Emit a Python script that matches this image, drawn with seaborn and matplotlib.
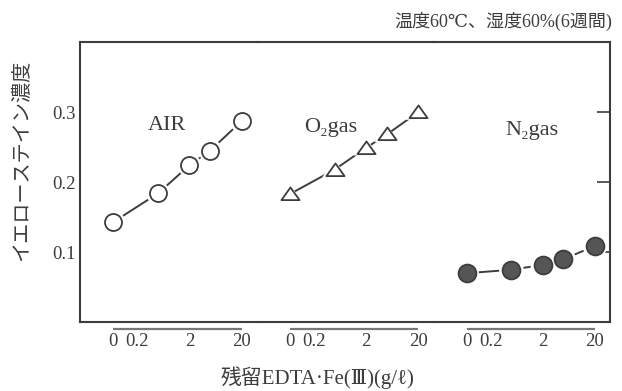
import pandas as pd
import matplotlib.pyplot as plt
import seaborn as sns
from matplotlib.path import Path

# residual EDTA-Fe(III) concentration (g/l) and yellow stain density
conc = [0, 0.5, 2, 5, 20]
air = [0.143, 0.184, 0.224, 0.245, 0.287]
o2 = [0.183, 0.218, 0.249, 0.268, 0.300]
n2 = [0.070, 0.075, 0.082, 0.090, 0.109]
tick_vals = [0, 0.2, 2, 20]
tick_labels = ['0', '0.2', '2', '20']

df = pd.DataFrame({'conc': conc * 3,
                   'density': air + o2 + n2,
                   'gas': ['AIR'] * 5 + ['O2'] * 5 + ['N2'] * 5})

sns.set_style('white')
plt.rcParams['font.family'] = ['Liberation Serif', 'DejaVu Serif', 'Noto Sans CJK JP']
ink = '#3d3d3d'

fig, axes = plt.subplots(1, 3, sharey=True, figsize=(6.22, 3.91), dpi=100)
fig.subplots_adjust(left=0.1286, right=0.9807, bottom=0.1757, top=0.8926, wspace=0)

tri = Path([(-1, -0.62), (1, -0.62), (0, 0.78), (-1, -0.62)], closed=True)
styles = {
    'AIR': dict(marker='o', fc='white', s=150),
    'O2': dict(marker=tri, fc='white', s=170),
    'N2': dict(marker='o', fc='#555555', s=165),
}

for ax, gas in zip(axes, ['AIR', 'O2', 'N2']):
    sub = df[df['gas'] == gas]
    st = styles[gas]
    sns.lineplot(data=sub, x='conc', y='density', ax=ax, color=ink, lw=1.4, zorder=2)
    # white halo so the connecting line stops short of each marker
    sns.scatterplot(data=sub, x='conc', y='density', ax=ax, marker=st['marker'],
                    s=st['s'] * 1.9, color='white', edgecolor='none', zorder=3)
    sns.scatterplot(data=sub, x='conc', y='density', ax=ax, marker=st['marker'],
                    s=st['s'], facecolor=st['fc'], edgecolor=ink, linewidth=1.3, zorder=4)
    ax.set_xscale('symlog', linthresh=0.2, linscale=0.4154)
    ax.set_xlim(-0.30, 39)
    ax.set_xticks(tick_vals)
    ax.set_xticklabels(tick_labels)
    ax.xaxis.set_minor_locator(plt.NullLocator())
    ax.tick_params(axis='x', direction='in', length=6.5, width=1.2, color=ink,
                   pad=8, labelsize=13.5, labelcolor=ink)
    ax.set_xlabel('')
    ax.set_ylabel('')
    ax.hlines(-0.025, 0, 20, transform=ax.get_xaxis_transform(), color='#777777',
              lw=1.6, clip_on=False)
    for sp in ax.spines.values():
        sp.set_color(ink)
        sp.set_linewidth(1.5)

axes[0].set_ylim(0, 0.4)
axes[0].set_yticks([0.1, 0.2, 0.3])
axes[0].set_yticklabels(['0.1', '0.2', '0.3'])
axes[0].spines['right'].set_visible(False)
axes[1].spines['left'].set_visible(False)
axes[1].spines['right'].set_visible(False)
axes[2].spines['left'].set_visible(False)
axes[0].tick_params(axis='y', direction='in', length=9.5, width=1.2, color=ink,
                    pad=3, labelsize=13.5, labelcolor=ink)
axes[1].tick_params(axis='y', left=False, right=False)
axes[2].tick_params(axis='y', left=False, right=True, direction='in', length=9.5,
                    width=1.2, color=ink, labelleft=False)

fig.text(0.268, 0.679, 'AIR', fontsize=16, color=ink, ha='center', va='center')
fig.text(0.532, 0.673, 'O₂gas', fontsize=16, color=ink, ha='center', va='center')
fig.text(0.855, 0.665, 'N₂gas', fontsize=16, color=ink, ha='center', va='center')

fig.text(0.984, 0.944, '温度60℃、湿度60%(6週間)', fontsize=13, color=ink,
         ha='right', va='center')
fig.text(0.036, 0.59, 'イエローステイン濃度', fontsize=14.5, color=ink,
         rotation=90, ha='center', va='center')
fig.text(0.511, 0.033, '残留EDTA·Fe(Ⅲ)(g/ℓ)', fontsize=15, color=ink,
         ha='center', va='center')

fig.savefig('out.png', dpi=100)
